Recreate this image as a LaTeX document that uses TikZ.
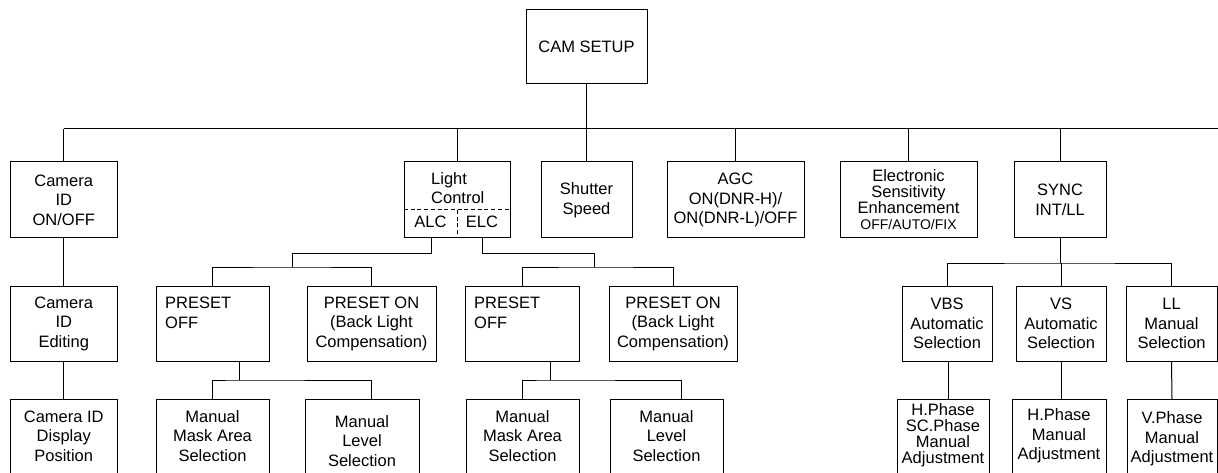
\documentclass[tikz,border=0pt]{standalone}
\usepackage{fontspec}
\setmainfont{Liberation Sans}
\usetikzlibrary{calc}
\newcommand\fsn{\fontsize{16.5}{19.5}\selectfont}
\newcommand\fst{\fontsize{16.5}{16}\selectfont}
\begin{document}
\begin{tikzpicture}[x=1pt,y=-1pt,
  box/.style={draw, line width=1pt, inner sep=0pt, align=center, font=\fsn},
  sz/.style 2 args={minimum width=#1pt, minimum height=#2pt},
  lowbox/.style={draw, line width=1pt, inner sep=0pt, anchor=north, minimum height=100pt},
  txt/.style={inner sep=0pt, align=center, font=\fsn},
  conn/.style={line width=1pt},
  dsh/.style={line width=1pt, dash pattern=on 4pt off 2.7pt},
]
\clip (0,0) rectangle (1218,473);
% top
\node[box, sz={121}{74}] (cam) at (586.5,47) {CAM SETUP};
% level 1
\node[box, sz={106.5}{76}] (camid) at (63.75,200) {Camera\\ID\\ON/OFF};
\node[box, sz={106}{76}] (light) at (457,200) {};
\node[txt, anchor=west, align=left] (lightt) at (431,188) {Light\\Control};
\node[txt] (alct) at (430.5,222) {ALC};
\node[txt] (elct) at (482,222) {ELC};
\node[box, sz={91}{76}] (shutter) at (586.5,200) {Shutter\\Speed};
\node[box, sz={137}{76}] (agc) at (735.5,200) {AGC\\ON(DNR-H)/\\ON(DNR-L)/OFF};
\node[box, sz={137}{76}, font=\fst] (ese) at (908.5,200) {Electronic\\Sensitivity\\Enhancement\\{\fontsize{14}{16}\selectfont OFF/AUTO/FIX}};
\node[box, sz={92}{76}] (sync) at (1060,200) {SYNC\\INT/LL};
% dashed split in Light Control
\coordinate (ldl) at (404,210);
\coordinate (ldr) at (510,210);
\coordinate (ldm) at (457,210);
\draw[dsh] (ldl) -- (ldr);
\draw[dsh] (ldm) -- (light.south);
% level 2
\node[box, sz={106.5}{75}] (camed) at (63.75,323.5) {Camera\\ID\\Editing};
\node[box, sz={113}{75}] (poff1) at (212.5,323.5) {};
\node[txt, anchor=west, align=left] (poff1t) at (165,313) {PRESET\\OFF};
\node[box, sz={129}{75}] (pon1) at (371.5,323.5) {PRESET ON\\(Back Light\\Compensation)};
\node[box, sz={114}{75}] (poff2) at (522,323.5) {};
\node[txt, anchor=west, align=left] (poff2t) at (474,313) {PRESET\\OFF};
\node[box, sz={128}{75}] (pon2) at (673,323.5) {PRESET ON\\(Back Light\\Compensation)};
\node[box, sz={90}{75}] (vbs) at (947,323.5) {VBS\\Automatic\\Selection};
\node[box, sz={90}{75}] (vs) at (1061,323.5) {VS\\Automatic\\Selection};
\node[box, sz={91}{75}] (ll) at (1171.5,323.5) {LL\\Manual\\Selection};
% level 3
\node[lowbox, minimum width=106.5pt] (camdp) at (63.75,399) {};
\node[txt] (camdpt) at (63.75,436) {Camera ID\\Display\\Position};
\node[lowbox, minimum width=113pt] (mm1) at (212.5,399) {};
\node[txt] (mm1t) at (212.5,436) {Manual\\Mask Area\\Selection};
\node[lowbox, minimum width=114pt] (ml1) at (362,399) {};
\node[txt] (ml1t) at (362,441) {Manual\\Level\\Selection};
\node[lowbox, minimum width=113pt] (mm2) at (522.5,399) {};
\node[txt] (mm2t) at (522.5,436) {Manual\\Mask Area\\Selection};
\node[lowbox, minimum width=113pt] (ml2) at (666.5,399) {};
\node[txt] (ml2t) at (666.5,436) {Manual\\Level\\Selection};
\node[lowbox, minimum width=92pt] (hsc) at (943,399) {};
\node[txt, font=\fst] (hsct) at (943,435) {H.Phase\\SC.Phase\\Manual\\Adjustment};
\node[lowbox, minimum width=94pt] (hp) at (1059,399) {};
\node[txt] (hpt) at (1059,436) {H.Phase\\Manual\\Adjustment};
\node[lowbox, minimum width=90pt] (vp) at (1172,399) {};
\node[txt] (vpt) at (1172,439) {V.Phase\\Manual\\Adjustment};
% main bus
\coordinate (bus) at (0,129);
\coordinate (busend) at (1218,129);
\draw[conn] (camid.north |- bus) -- (busend);
\draw[conn] (cam.south) -- (shutter.north);
\draw[conn] (camid.north |- bus) -- (camid.north);
\draw[conn] (light.north |- bus) -- (light.north);
\draw[conn] (agc.north |- bus) -- (agc.north);
\draw[conn] (ese.north |- bus) -- (ese.north);
\draw[conn] (sync.north |- bus) -- (sync.north);
% camera id chain
\draw[conn] (camid.south) -- (camed.north);
\draw[conn] (camed.south) -- (camdp.north);
% ALC / ELC branches
\coordinate (alc) at (431,238);
\coordinate (elc) at (482.5,238);
\coordinate (ab1) at (292,267);
\coordinate (eb1) at (594,267);
\draw[conn] (alc) -- ++(0,15) -| (ab1);
\draw[conn] (poff1.north) |- (ab1) -| (pon1.north);
\draw[conn] (elc) -- ++(0,15) -| (eb1);
\draw[conn] (poff2.north) |- (eb1) -| (pon2.north);
% preset off sub-branches
\coordinate (p1d) at (239,361);
\coordinate (mb1) at (239,380);
\coordinate (ml1top) at (371,399);
\draw[conn] (p1d) -- (mb1);
\draw[conn] (mm1.north) |- (mb1) -| (ml1top);
\coordinate (p2d) at (550,361);
\coordinate (mb2) at (550,380);
\coordinate (ml2top) at (681,399);
\draw[conn] (p2d) -- (mb2);
\draw[conn] (mm2.north) |- (mb2) -| (ml2top);
% sync branches
\coordinate (sb) at (1060,263);
\draw[conn] (sync.south) -- (sb);
\draw[conn] (vbs.north) |- (sb) -| (ll.north);
\draw[conn] (vs.north |- sb) -- (vs.north);
\coordinate (vbsd) at (948,361);
\draw[conn] (vbsd) -- (vbsd |- hsc.north);
\draw[conn] (vs.south) -- (vs.south |- hp.north);
\draw[conn] (ll.south) -- (vp.north);
\end{tikzpicture}
\end{document}
